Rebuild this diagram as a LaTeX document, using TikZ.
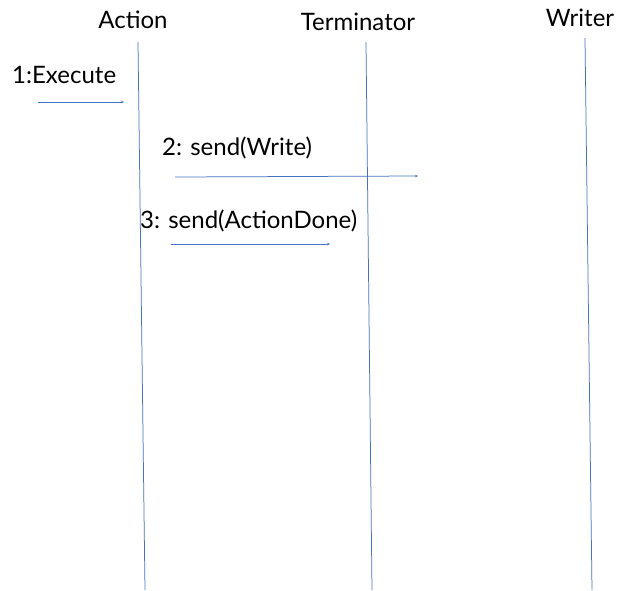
\documentclass[tikz,border=0pt]{standalone}
\usepackage{fontspec}
\setmainfont{Lato}
\usetikzlibrary{arrows.meta}
\definecolor{lifeblue}{HTML}{4472C4}
\tikzset{
  lifeline/.style={draw=lifeblue, line width=0.75pt},
  message/.style={draw=lifeblue, line width=0.75pt, -{Stealth[length=3pt,width=2.5pt]}},
  actor/.style={font=\fontsize{24}{28}\selectfont, inner sep=0pt},
  msglabel/.style={font=\fontsize{24}{28}\selectfont, inner sep=0pt, anchor=west},
}
\begin{document}
\begin{tikzpicture}[x=1pt,y=-1pt]
\useasboundingbox (0,0) rectangle (630,590);
\fill[white] (0,0) rectangle (630,590);

% participants
\node[actor] (action) at (133,20) {Action};
\node[actor] (term) at (358,22) {Terminator};
\node[actor] (writer) at (580,18) {Writer};

% lifelines
\coordinate (actionTop) at (138,42);
\coordinate (actionBot) at (145,590);
\coordinate (termTop) at (366,42);
\coordinate (termBot) at (372,590);
\coordinate (writerTop) at (585,38);
\coordinate (writerBot) at (592,590);
\draw[lifeline] (actionTop) -- (actionBot);
\draw[lifeline] (termTop) -- (termBot);
\draw[lifeline] (writerTop) -- (writerBot);

% messages
\node[msglabel] (m1) at (12,75) {1:Execute};
\coordinate (m1s) at (38,102);
\coordinate (m1e) at (124,102);
\draw[message] (m1s) -- (m1e);

\node[msglabel] (m2) at (162,148) {2: send(Write)};
\coordinate (m2s) at (175,177);
\coordinate (m2e) at (418,176);
\draw[message] (m2s) -- (m2e);

\node[msglabel] (m3) at (140,221) {3: send(ActionDone)};
\coordinate (m3s) at (171,244);
\coordinate (m3e) at (330,244);
\draw[message] (m3s) -- (m3e);
\end{tikzpicture}
\end{document}
